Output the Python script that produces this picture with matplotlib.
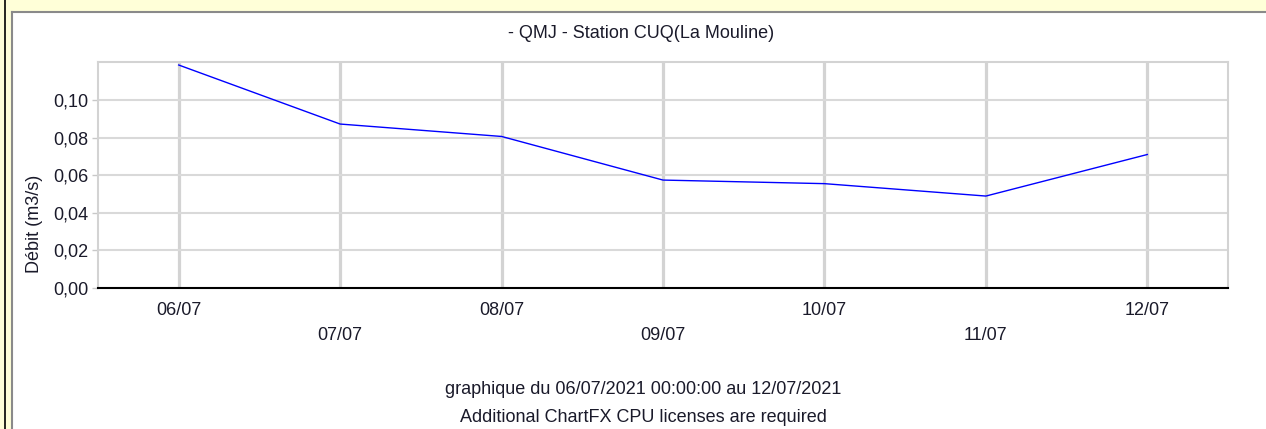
import matplotlib
matplotlib.use("Agg")
import matplotlib.pyplot as plt
from matplotlib.patches import Rectangle
from matplotlib.lines import Line2D

dates = ["06/07", "07/07", "08/07", "09/07", "10/07", "11/07", "12/07"]
debit = [0.1186, 0.0872, 0.0806, 0.0574, 0.0555, 0.0489, 0.0710]
yticks = [0.00, 0.02, 0.04, 0.06, 0.08, 0.10]
ytick_labels = ["0,00", "0,02", "0,04", "0,06", "0,08", "0,10"]

title = "- QMJ - Station CUQ(La Mouline)"
ylabel = "Débit (m3/s)"
footer1 = "graphique du 06/07/2021 00:00:00 au 12/07/2021"
footer2 = "Additional ChartFX CPU licenses are required"

plt.rcParams['font.family'] = ['Liberation Sans', 'DejaVu Sans']
FS = 13
TXT = '#1a1a2a'

W, H = 1266, 429
fig = plt.figure(figsize=(W / 100, H / 100), dpi=100)
fig.patch.set_facecolor('white')

# outer frame decoration
fig.add_artist(Rectangle((0, 0), 1, 1, transform=fig.transFigure,
                         facecolor='#FFFFD8', edgecolor='none', zorder=-10))
fig.add_artist(Rectangle((12 / W, 0), 1, 1 - 12 / H, transform=fig.transFigure,
                         facecolor='white', edgecolor='none', zorder=-9))
fig.add_artist(Line2D([4.5 / W, 4.5 / W], [0, 1], transform=fig.transFigure,
                      color='black', lw=1.2))
fig.add_artist(Line2D([11.5 / W, 11.5 / W], [0, 1 - 11.5 / H], transform=fig.transFigure,
                      color='#8a8a8a', lw=1.5))
fig.add_artist(Line2D([11.5 / W, 1], [1 - 11.5 / H, 1 - 11.5 / H], transform=fig.transFigure,
                      color='#8a8a8a', lw=1.5))

left, right, top, bottom = 98, 1228, 62, 288
ax = fig.add_axes([left / W, 1 - bottom / H, (right - left) / W, (bottom - top) / H])

x = list(range(len(dates)))
ax.set_xlim(-0.5, len(dates) - 0.5)
ax.set_ylim(0, 0.1202)

for xi in x:
    ax.axvline(xi, color='#D3D3D3', lw=2.3, zorder=1)
for yv in yticks[1:]:
    ax.axhline(yv, color='#D9D9D9', lw=1.5, zorder=1)

ax.plot(x, debit, color='#0000FF', lw=1.0, zorder=3)

for s in ['top', 'left', 'right']:
    ax.spines[s].set_color('#D3D3D3')
    ax.spines[s].set_linewidth(1.5)
ax.spines['bottom'].set_color('black')
ax.spines['bottom'].set_linewidth(1.5)
ax.spines['bottom'].set_zorder(4)

ax.set_yticks(yticks)
ax.set_yticklabels(ytick_labels, fontsize=FS, color=TXT)
ax.tick_params(axis='y', length=4, width=1, color='#C8C8C8', pad=3)

# staggered x labels: even days on major ticks, odd days on minor ticks
ax.set_xticks(x[0::2])
ax.set_xticklabels(dates[0::2], fontsize=FS, color=TXT)
ax.set_xticks(x[1::2], minor=True)
ax.set_xticklabels(dates[1::2], minor=True, fontsize=FS, color=TXT)
ax.tick_params(axis='x', which='major', length=0, pad=10)
ax.tick_params(axis='x', which='minor', length=0, pad=28)

ax.set_ylabel(ylabel, fontsize=FS, color=TXT)
ax.yaxis.set_label_coords((43 - left) / (right - left), (bottom - 224) / (bottom - top))

fig.text(641 / W, 1 - 34 / H, title, ha='center', va='center', fontsize=FS, color=TXT)
fig.text(643 / W, 1 - 389 / H, footer1, ha='center', va='center', fontsize=FS, color=TXT)
fig.text(643 / W, 1 - 417 / H, footer2, ha='center', va='center', fontsize=FS, color=TXT)

fig.savefig("out.png", dpi=100)
